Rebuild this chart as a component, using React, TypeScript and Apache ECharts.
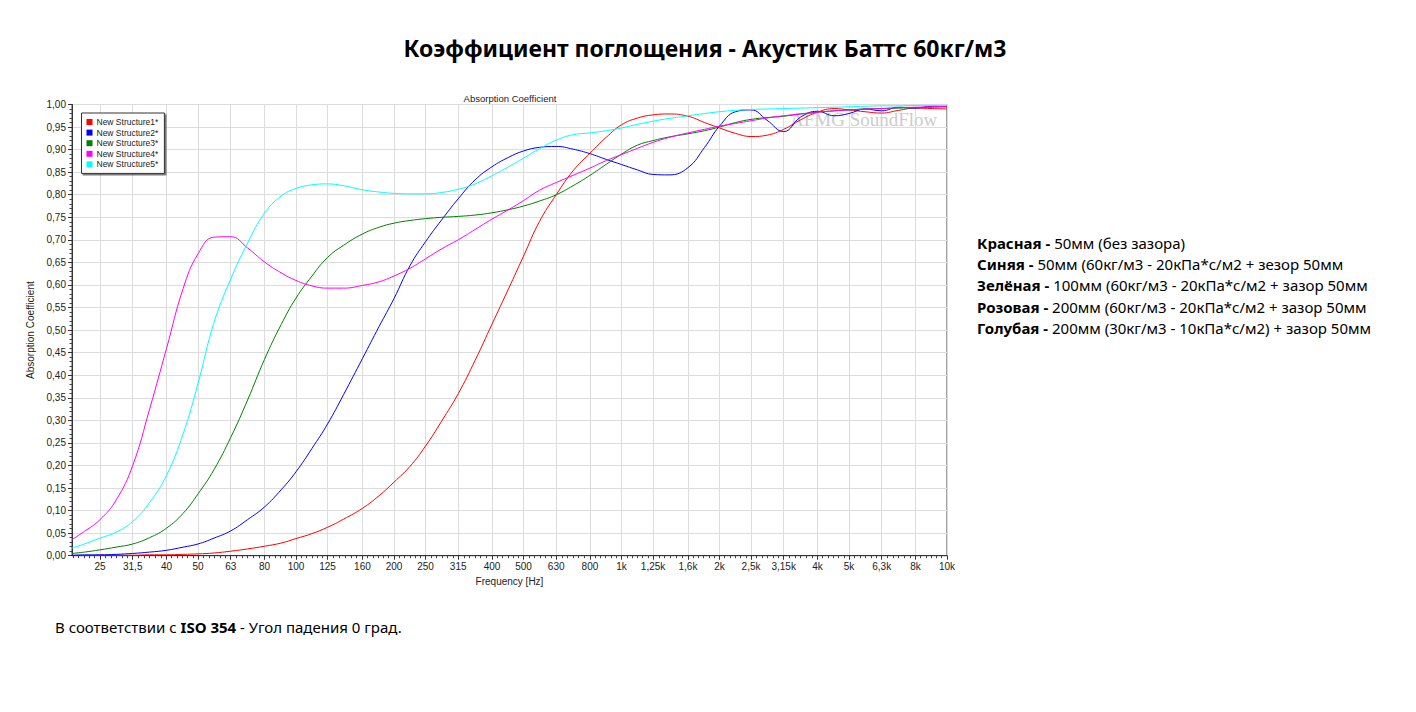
import React, { useEffect, useRef } from 'react';
import * as echarts from 'echarts';

// Frequencies (Hz) at which the curves were read
const frequencies = [
  20.5, 22.4, 25, 28, 31.5, 35.5, 40, 45, 50, 56, 63, 71, 80, 90, 100, 112,
  125, 140, 160, 180, 200, 224, 250, 280, 315, 355, 400, 450, 500, 560, 630, 710,
  800, 900, 1000, 1120, 1250, 1400, 1600, 1800, 2000, 2240, 2500, 2800, 3150, 3550,
  4000, 4500, 5000, 5600, 6300, 7100, 8000, 9000, 10000,
];

const structure1 = [
  0.000, 0.000, 0.001, 0.001, 0.001, 0.002, 0.002, 0.003,
  0.004, 0.006, 0.010, 0.015, 0.021, 0.028, 0.038, 0.049,
  0.063, 0.081, 0.105, 0.133, 0.163, 0.198, 0.243, 0.298,
  0.359, 0.433, 0.513, 0.592, 0.664, 0.741, 0.800, 0.853,
  0.892, 0.928, 0.955, 0.970, 0.977, 0.979, 0.974, 0.960,
  0.948, 0.936, 0.929, 0.932, 0.945, 0.966, 0.983, 0.991,
  0.988, 0.984, 0.981, 0.987, 0.992, 0.991, 0.990,
];

const structure2 = [
  0.001, 0.002, 0.002, 0.003, 0.005, 0.008, 0.012, 0.019,
  0.026, 0.039, 0.055, 0.080, 0.108, 0.146, 0.186, 0.238,
  0.292, 0.357, 0.437, 0.508, 0.570, 0.643, 0.696, 0.744,
  0.791, 0.833, 0.862, 0.883, 0.897, 0.905, 0.907, 0.901,
  0.891, 0.878, 0.867, 0.855, 0.845, 0.844, 0.860, 0.905,
  0.952, 0.984, 0.988, 0.965, 0.940, 0.972, 0.985, 0.975,
  0.980, 0.990, 0.986, 0.994, 0.992, 0.996, 0.995,
];

const structure3 = [
  0.005, 0.008, 0.013, 0.019, 0.026, 0.040, 0.061, 0.094,
  0.137, 0.191, 0.262, 0.345, 0.435, 0.512, 0.571, 0.620,
  0.661, 0.688, 0.713, 0.728, 0.737, 0.743, 0.747, 0.750,
  0.752, 0.755, 0.760, 0.767, 0.775, 0.786, 0.800, 0.820,
  0.843, 0.868, 0.890, 0.910, 0.920, 0.928, 0.935, 0.942,
  0.950, 0.960, 0.967, 0.971, 0.974, 0.979, 0.983, 0.986,
  0.988, 0.990, 0.991, 0.992, 0.993, 0.994, 0.995,
];

const structure4 = [
  0.036, 0.054, 0.080, 0.123, 0.200, 0.325, 0.459, 0.592,
  0.669, 0.706, 0.707, 0.682, 0.651, 0.627, 0.610, 0.598,
  0.593, 0.593, 0.599, 0.607, 0.620, 0.637, 0.658, 0.680,
  0.700, 0.723, 0.746, 0.767, 0.787, 0.810, 0.827, 0.843,
  0.859, 0.876, 0.889, 0.903, 0.916, 0.927, 0.937, 0.945,
  0.952, 0.958, 0.964, 0.970, 0.975, 0.979, 0.983, 0.986,
  0.988, 0.990, 0.991, 0.993, 0.994, 0.995, 0.996,
];

const structure5 = [
  0.017, 0.026, 0.039, 0.052, 0.076, 0.118, 0.178, 0.270,
  0.382, 0.517, 0.613, 0.693, 0.759, 0.797, 0.814, 0.822,
  0.824, 0.820, 0.811, 0.806, 0.803, 0.802, 0.802, 0.805,
  0.812, 0.824, 0.842, 0.862, 0.881, 0.902, 0.921, 0.933,
  0.937, 0.942, 0.948, 0.956, 0.963, 0.969, 0.975, 0.980,
  0.984, 0.987, 0.989, 0.990, 0.991, 0.992, 0.993, 0.994,
  0.995, 0.996, 0.997, 0.997, 0.998, 0.998, 0.998,
];

const seriesNames = ['New Structure1*', 'New Structure2*', 'New Structure3*', 'New Structure4*', 'New Structure5*'];
const seriesColors = ['#ff0000', '#0000ff', '#008000', '#ff00ff', '#00ffff'];
const seriesValues = [structure1, structure2, structure3, structure4, structure5];

const xTickFreqs = [
  25, 31.5, 40, 50, 63, 80, 100, 125, 160, 200, 250, 315, 400, 500, 630, 800,
  1000, 1250, 1600, 2000, 2500, 3150, 4000, 5000, 6300, 8000, 10000,
];
const xTickLabels = [
  '25', '31,5', '40', '50', '63', '80', '100', '125', '160', '200', '250', '315', '400', '500', '630', '800',
  '1k', '1,25k', '1,6k', '2k', '2,5k', '3,15k', '4k', '5k', '6,3k', '8k', '10k',
];
const xMinHz = 20.5;
const xMaxHz = 10000;

const chartTitle = 'Коэффициент поглощения - Акустик Баттс 60кг/м3';
const plotTitle = 'Absorption Coefficient';
const yAxisName = 'Absorption Coefficient';
const xAxisName = 'Frequency [Hz]';
const watermark = 'AFMG SoundFlow';
const notes: [string, string][] = [
  ['Красная - ', '50мм (без зазора)'],
  ['Синяя - ', '50мм (60кг/м3 - 20кПа*с/м2 + зезор 50мм'],
  ['Зелёная - ', '100мм (60кг/м3 - 20кПа*с/м2 + зазор 50мм'],
  ['Розовая - ', '200мм (60кг/м3 - 20кПа*с/м2 + зазор 50мм'],
  ['Голубая - ', '200мм (30кг/м3 - 10кПа*с/м2) + зазор 50мм'],
];
const footnote: [string, string, string] = ['В соответствии с ', 'ISO 354', ' - Угол падения 0 град.'];

const AXIS_FONT = '"Liberation Sans", Arial, sans-serif';
const TEXT_FONT = '"Noto Sans", "Open Sans", sans-serif';

export default function App() {
  const ref = useRef<HTMLDivElement>(null);

  useEffect(() => {
    if (!ref.current) return;
    const chart = echarts.init(ref.current, undefined, { renderer: 'svg' });

    const xMin = Math.log10(xMinHz);
    const xMax = Math.log10(xMaxHz);
    const majorTicks = xTickFreqs.map((f) => Math.log10(f));
    const minorTicks: number[] = [];
    const bounds = [majorTicks[0] - 0.1, ...majorTicks];
    for (let i = 0; i < bounds.length - 1; i++) {
      const a = bounds[i];
      const b = bounds[i + 1];
      for (let j = 1; j < 6; j++) {
        const v = a + ((b - a) * j) / 6;
        if (v > xMin && v < xMax) minorTicks.push(v);
      }
    }

    const labelFor = (v: number) => {
      let best = 0;
      let bestD = Infinity;
      majorTicks.forEach((t, i) => {
        const d = Math.abs(t - v);
        if (d < bestD) {
          bestD = d;
          best = i;
        }
      });
      return xTickLabels[best];
    };

    const richText = {
      b: { fontFamily: TEXT_FONT, fontWeight: 'bold', fontSize: 15, fill: '#000' },
      r: { fontFamily: TEXT_FONT, fontSize: 15, fill: '#000' },
    };

    const option: any = {
      animation: false,
      backgroundColor: '#ffffff',
      grid: {
        left: 64,
        top: 96.5,
        width: 875,
        height: 451.2,
        show: true,
        borderColor: '#444',
        borderWidth: 1,
        backgroundColor: 'transparent',
      },
      legend: {
        orient: 'vertical',
        left: 73.5,
        top: 105,
        icon: 'rect',
        itemWidth: 6,
        itemHeight: 6,
        itemGap: 0.6,
        padding: [4, 6, 4, 5],
        backgroundColor: '#ffffff',
        borderColor: '#333',
        borderWidth: 1,
        shadowColor: 'rgba(0,0,0,0.55)',
        shadowOffsetX: 1.5,
        shadowOffsetY: 1.5,
        shadowBlur: 0,
        selectedMode: false,
        textStyle: { fontFamily: AXIS_FONT, fontSize: 8.5, color: '#222', lineHeight: 10, padding: [0, 0, 0, -1] },
        data: seriesNames,
      },
      xAxis: [
        {
          type: 'value',
          min: xMin,
          max: xMax,
          name: xAxisName,
          nameLocation: 'middle',
          nameGap: 17,
          nameTextStyle: { fontFamily: AXIS_FONT, fontSize: 10, color: '#222' },
          axisLine: { show: true, lineStyle: { color: '#333', width: 1 } },
          axisTick: { show: true, length: 4, customValues: majorTicks, lineStyle: { color: '#333' } },
          axisLabel: {
            customValues: majorTicks,
            formatter: (v: number) => labelFor(v),
            fontFamily: AXIS_FONT,
            fontSize: 10,
            color: '#222',
            margin: 6,
          },
          splitLine: { show: true, lineStyle: { color: '#dcdcdc', width: 1 } },
        },
        {
          type: 'value',
          min: xMin,
          max: xMax,
          position: 'bottom',
          offset: 0,
          axisLine: { show: false },
          axisTick: { show: true, length: 2.5, customValues: minorTicks, lineStyle: { color: '#444' } },
          axisLabel: { show: false },
          splitLine: { show: false },
        },
      ],
      yAxis: {
        type: 'value',
        min: 0,
        max: 1,
        interval: 0.05,
        name: yAxisName,
        nameLocation: 'middle',
        nameGap: 27,
        nameTextStyle: { fontFamily: AXIS_FONT, fontSize: 10, color: '#222' },
        axisLine: { show: true, lineStyle: { color: '#333', width: 1 } },
        axisTick: { show: true, length: 4, lineStyle: { color: '#333' } },
        minorTick: { show: true, splitNumber: 5, length: 2.5, lineStyle: { color: '#444' } },
        axisLabel: {
          formatter: (v: number) => v.toFixed(2).replace('.', ','),
          fontFamily: AXIS_FONT,
          fontSize: 10,
          color: '#222',
          margin: 6,
        },
        splitLine: { show: true, lineStyle: { color: '#dcdcdc', width: 1 } },
      },
      series: seriesValues.map((vals, i) => ({
        type: 'line',
        name: seriesNames[i],
        xAxisIndex: 0,
        data: vals.map((v, k) => [Math.log10(frequencies[k]), v]),
        showSymbol: false,
        symbol: 'none',
        smooth: 0.45,
        clip: true,
        color: seriesColors[i],
        lineStyle: { color: seriesColors[i], width: 1 },
        itemStyle: { color: seriesColors[i] },
        z: 3,
      })),
      graphic: [
        {
          type: 'text',
          x: 697,
          y: 40,
          z: 10,
          style: {
            text: chartTitle,
            fill: '#000',
            fontFamily: TEXT_FONT,
            fontWeight: 'bold',
            fontSize: 23,
            align: 'center',
            verticalAlign: 'middle',
          },
        },
        {
          type: 'text',
          x: 502,
          y: 90,
          z: 10,
          style: {
            text: plotTitle,
            fill: '#222',
            fontFamily: AXIS_FONT,
            fontSize: 9.5,
            align: 'center',
            verticalAlign: 'middle',
          },
        },
        {
          type: 'text',
          x: 782,
          y: 102,
          z: 1,
          style: {
            text: watermark,
            fill: '#cccccc',
            fontFamily: '"Liberation Serif", "DejaVu Serif", serif',
            fontSize: 19,
            align: 'left',
            verticalAlign: 'top',
          },
        },
        ...notes.map((n, i) => ({
          type: 'text',
          x: 969,
          y: 235 + i * 21.2,
          z: 10,
          style: {
            text: `{b|${n[0]}}{r|${n[1]}}`,
            align: 'left',
            verticalAlign: 'middle',
            rich: richText,
          },
        })),
        {
          type: 'text',
          x: 47,
          y: 619,
          z: 10,
          style: {
            text: `{r|${footnote[0]}}{b|${footnote[1]}}{r|${footnote[2]}}`,
            align: 'left',
            verticalAlign: 'middle',
            rich: richText,
          },
        },
      ],
    };

    chart.setOption(option);
    return () => {
      chart.dispose();
    };
  }, []);

  return <div ref={ref} style={{ width: 1400, height: 696 }} />;
}
